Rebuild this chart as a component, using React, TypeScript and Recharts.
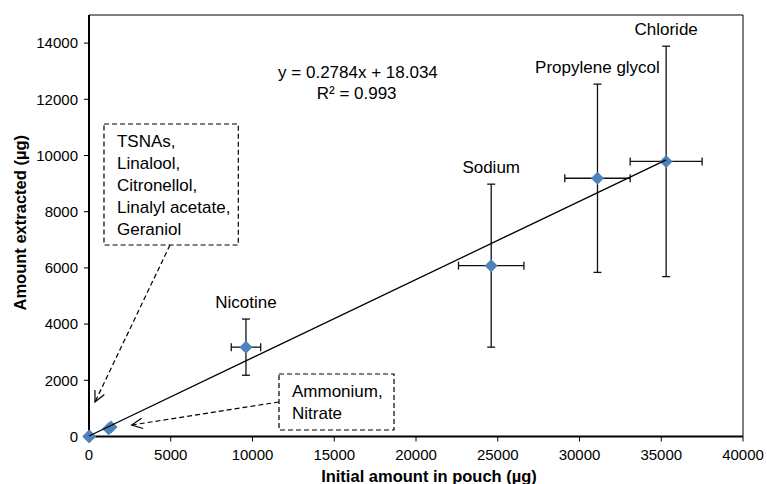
import {
  ScatterChart,
  Scatter,
  XAxis,
  YAxis,
  ErrorBar,
  ReferenceLine,
  ReferenceArea,
  ReferenceDot,
} from "recharts"

// main compounds (µg)
const compounds = ["Nicotine", "Sodium", "Propylene glycol", "Chloride"]
const initialAmount = [9600, 24600, 31100, 35300]
const extracted = [3180, 6080, 9190, 9790]
const initialErr = [900, 2000, 2000, 2200]
const extractedErr = [1000, 2900, 3350, 4100]

// small compounds near the origin
const minorNames = ["TSNAs", "Linalool", "Citronellol", "Linalyl acetate", "Geraniol", "Ammonium", "Nitrate"]
const minorInitial = [0, 20, 15, 30, 10, 1200, 1350]
const minorExtracted = [0, 5, 4, 8, 3, 280, 340]

// linear fit y = 0.2784x + 18.034
const trendX = [0, 35300]
const trendY = [18, 9846]

const xTicks = [0, 5000, 10000, 15000, 20000, 25000, 30000, 35000, 40000]
const yTicks = [0, 2000, 4000, 6000, 8000, 10000, 12000, 14000]

const boxALines = ["TSNAs,", "Linalool,", "Citronellol,", "Linalyl acetate,", "Geraniol"]
const boxBLines = ["Ammonium,", "Nitrate"]

const FONT = '"Liberation Sans", Arial, Helvetica, sans-serif'
const BLUE = "#4F81BD"

const mainData = compounds.map((name, i) => ({
  name,
  x: initialAmount[i],
  y: extracted[i],
  ex: initialErr[i],
  ey: extractedErr[i],
}))
const minorData = minorNames.map((name, i) => ({ name, x: minorInitial[i], y: minorExtracted[i] }))
const trendData = trendX.map((x, i) => ({ x, y: trendY[i] }))

const Diamond = (p: any) => {
  const r = 6.5
  return (
    <polygon
      points={`${p.cx},${p.cy - r} ${p.cx + r},${p.cy} ${p.cx},${p.cy + r} ${p.cx - r},${p.cy}`}
      fill={BLUE}
    />
  )
}

const NoPoint = () => <g />

const Arrow = (props: any) => {
  const { x1, y1, x2, y2 } = props
  const a = Math.atan2(y2 - y1, x2 - x1)
  const len = 12
  const spread = 0.45
  const h1x = x2 - len * Math.cos(a - spread)
  const h1y = y2 - len * Math.sin(a - spread)
  const h2x = x2 - len * Math.cos(a + spread)
  const h2y = y2 - len * Math.sin(a + spread)
  return (
    <g>
      <line x1={x1} y1={y1} x2={x2} y2={y2} stroke="#000" strokeWidth={1.2} strokeDasharray="5 3" />
      <polyline points={`${h1x},${h1y} ${x2},${y2} ${h2x},${h2y}`} fill="none" stroke="#000" strokeWidth={1.2} />
    </g>
  )
}

const BoxText = ({ viewBox, lines }: any) => (
  <text fontFamily={FONT} fontSize={17} fill="#000">
    {lines.map((l: string, i: number) => (
      <tspan key={i} x={viewBox.x + 13} y={viewBox.y + 23 + i * 22}>
        {l}
      </tspan>
    ))}
  </text>
)

const XTitle = ({ viewBox }: any) => (
  <text
    x={viewBox.x + viewBox.width / 2 + 13}
    y={viewBox.y + 45}
    textAnchor="middle"
    fontFamily={FONT}
    fontSize={16.5}
    fontWeight="bold"
    fill="#000"
  >
    Initial amount in pouch (µg)
  </text>
)

const YTitle = ({ viewBox }: any) => {
  const cx = 20
  const cy = viewBox.y + viewBox.height / 2 - 3
  return (
    <text
      x={cx}
      y={cy}
      transform={`rotate(-90, ${cx}, ${cy})`}
      textAnchor="middle"
      dominantBaseline="central"
      fontFamily={FONT}
      fontSize={16.5}
      fontWeight="bold"
      fill="#000"
    >
      Amount extracted (µg)
    </text>
  )
}

export default function App() {
  return (
    <div style={{ position: "absolute", left: 0, top: 0, width: 767, height: 484, background: "#fff" }}>
      <ScatterChart
        width={767}
        height={484}
        margin={{ top: 15, right: 24, bottom: 0, left: 0 }}
        style={{ fontFamily: FONT }}
      >
        <XAxis
          type="number"
          dataKey="x"
          domain={[0, 40000]}
          ticks={xTicks}
          interval={0}
          height={47.5}
          tickSize={5}
          tickMargin={8}
          axisLine={{ stroke: "#000", strokeWidth: 2 }}
          tickLine={{ stroke: "#000" }}
          tick={{ fill: "#000", fontSize: 15, fontFamily: FONT }}
          label={<XTitle />}
        />
        <YAxis
          type="number"
          dataKey="y"
          domain={[0, 15000]}
          ticks={yTicks}
          interval={0}
          width={89}
          tickSize={5}
          tickMargin={6}
          axisLine={{ stroke: "#000", strokeWidth: 2 }}
          tickLine={{ stroke: "#000" }}
          tick={{ fill: "#000", fontSize: 15, fontFamily: FONT }}
          label={<YTitle />}
        />
        <ReferenceLine y={15000} stroke="#000" strokeWidth={1} />
        <ReferenceLine x={40000} stroke="#000" strokeWidth={1} />

        <ReferenceArea
          x1={917}
          x2={9131}
          y1={6815}
          y2={11121}
          fill="#fff"
          fillOpacity={1}
          stroke="#000"
          strokeWidth={1.2}
          strokeDasharray="5 3"
          label={<BoxText lines={boxALines} />}
        />
        <ReferenceArea
          x1={11621}
          x2={18654}
          y1={231}
          y2={2224}
          fill="#fff"
          fillOpacity={1}
          stroke="#000"
          strokeWidth={1.2}
          strokeDasharray="5 3"
          label={<BoxText lines={boxBLines} />}
        />
        <ReferenceLine
          segment={[
            { x: 4954, y: 6815 },
            { x: 367, y: 1228 },
          ]}
          shape={Arrow}
        />
        <ReferenceLine
          segment={[
            { x: 11621, y: 1228 },
            { x: 2611, y: 409 },
          ]}
          shape={Arrow}
        />

        <ReferenceDot
          x={16450}
          y={12983}
          r={0}
          fill="none"
          stroke="none"
          label={{ value: "y = 0.2784x + 18.034", position: "center", fill: "#000", fontSize: 17, fontFamily: FONT }}
        />
        <ReferenceDot
          x={16370}
          y={12214}
          r={0}
          fill="none"
          stroke="none"
          label={{ value: "R² = 0.993", position: "center", fill: "#000", fontSize: 17, fontFamily: FONT }}
        />

        <Scatter data={minorData} shape={Diamond} isAnimationActive={false} />
        <Scatter data={mainData} shape={Diamond} isAnimationActive={false}>
          <ErrorBar dataKey="ex" direction="x" width={4} stroke="#111" strokeWidth={1.3} />
          <ErrorBar dataKey="ey" direction="y" width={4} stroke="#111" strokeWidth={1.3} />
        </Scatter>
        <Scatter
          data={trendData}
          line={{ stroke: "#000", strokeWidth: 1.3 }}
          shape={NoPoint}
          isAnimationActive={false}
        />

        {mainData.map((d) => (
          <ReferenceDot
            key={d.name}
            x={d.x}
            y={d.y + d.ey}
            r={0}
            fill="none"
            stroke="none"
            label={{ value: d.name, position: "top", offset: 11, fill: "#000", fontSize: 17, fontFamily: FONT }}
          />
        ))}
      </ScatterChart>
    </div>
  )
}
